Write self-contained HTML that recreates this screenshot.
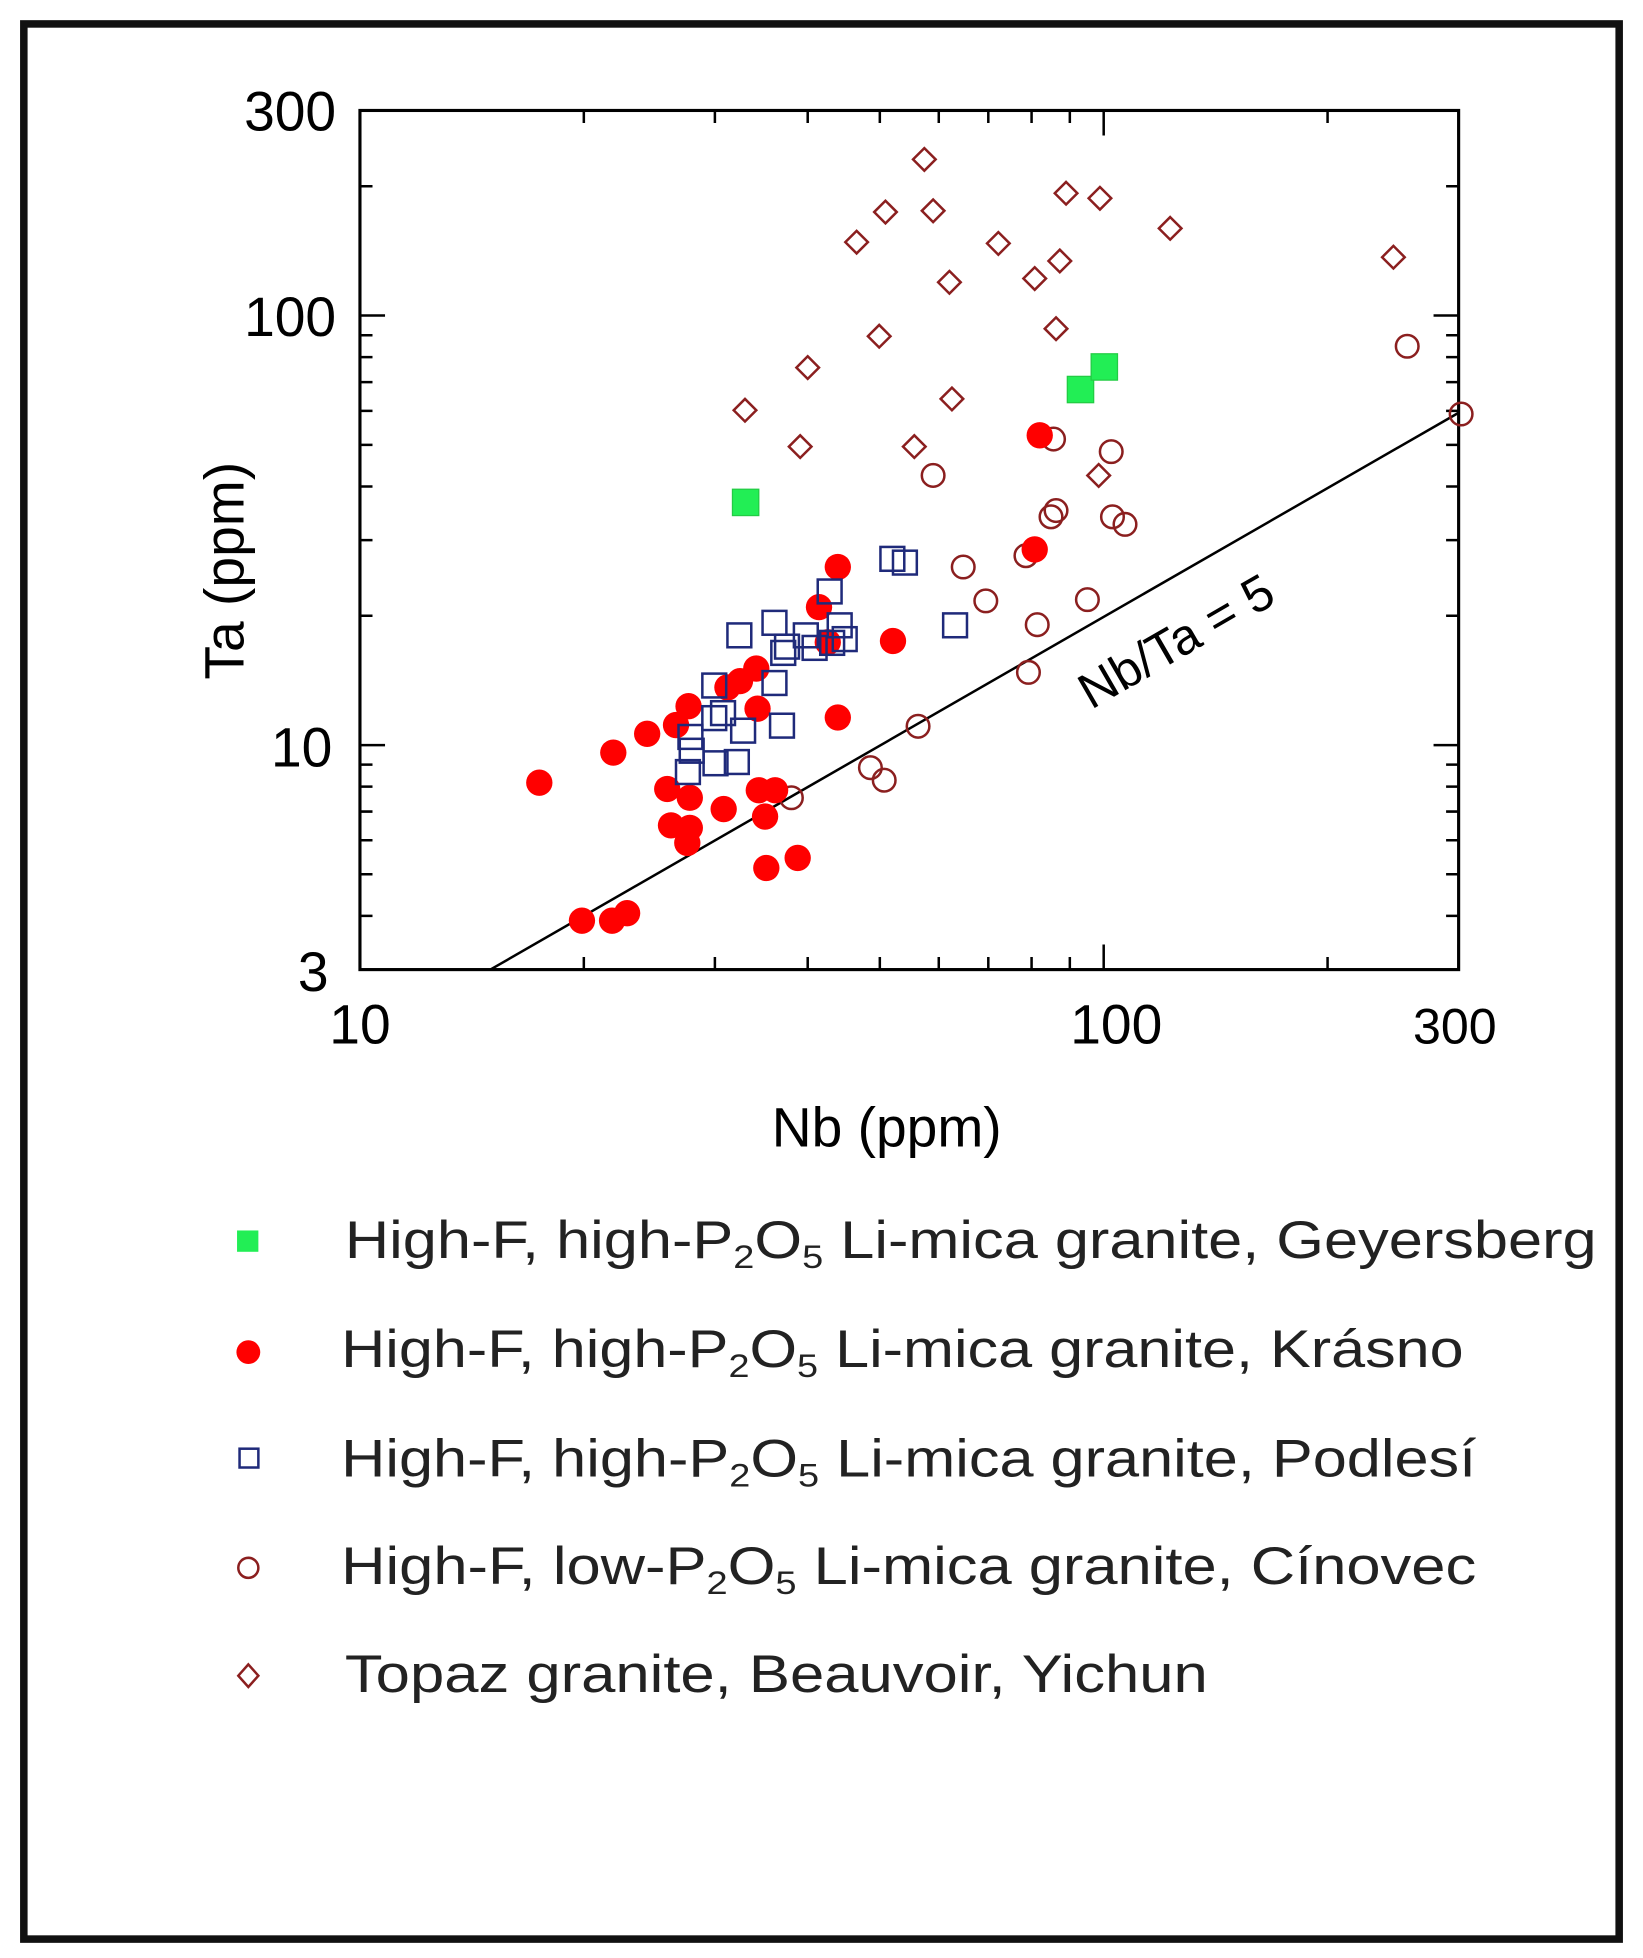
<!DOCTYPE html>
<html><head><meta charset="utf-8"><style>html,body{margin:0;padding:0;background:#fff}svg{display:block}</style></head>
<body>
<svg width="1643" height="1958" viewBox="0 0 1310 1561" xmlns="http://www.w3.org/2000/svg" font-family="Liberation Sans, Arial, sans-serif">
<rect x="0" y="0" width="1310" height="1561" fill="#fff"/>
<rect x="19" y="19" width="1272" height="1527" fill="none" stroke="#111" stroke-width="6"/>
<g stroke="#000" stroke-width="2">
<path d="M287 773v-20M287 88v20
M465.5 773v-10M465.5 88v10
M570 773v-10M570 88v10
M644 773v-10M644 88v10
M701.5 773v-10M701.5 88v10
M748.5 773v-10M748.5 88v10
M788 773v-10M788 88v10
M822.5 773v-10M822.5 88v10
M853 773v-10M853 88v10
M880 773v-20M880 88v20
M1058.5 773v-10M1058.5 88v10
M1163 773v-20M1163 88v20"/>
<path d="M287 730.2h10M1163 730.2h-10
M287 697h10M1163 697h-10
M287 669.9h10M1163 669.9h-10
M287 647h10M1163 647h-10
M287 627.1h10M1163 627.1h-10
M287 609.6h10M1163 609.6h-10
M287 594h20M1163 594h-20
M287 490.9h10M1163 490.9h-10
M287 430.6h10M1163 430.6h-10
M287 387.8h10M1163 387.8h-10
M287 354.6h10M1163 354.6h-10
M287 327.5h10M1163 327.5h-10
M287 304.6h10M1163 304.6h-10
M287 284.7h10M1163 284.7h-10
M287 267.2h10M1163 267.2h-10
M287 251.5h20M1163 251.5h-20
M287 148.4h10M1163 148.4h-10"/>
</g>
<rect x="287" y="88" width="876" height="685" fill="none" stroke="#000" stroke-width="2.5"/>
<line x1="391" y1="773" x2="1163" y2="329" stroke="#000" stroke-width="2"/>
<text x="0" y="0" font-size="40" transform="translate(870,566) rotate(-30)">Nb/Ta = 5</text>
<g font-size="44" fill="#000">
<text x="268" y="104" text-anchor="end">300</text>
<text x="268" y="268" text-anchor="end">100</text>
<text x="265" y="611" text-anchor="end">10</text>
<text x="262" y="790" text-anchor="end">3</text>
<text x="287" y="832" text-anchor="middle">10</text>
<text x="890" y="832" text-anchor="middle">100</text>
<text x="1160" y="832" font-size="40" text-anchor="middle">300</text>
<text x="707" y="914" text-anchor="middle">Nb (ppm)</text>
<text x="0" y="0" text-anchor="middle" transform="translate(194,455) rotate(-90)">Ta (ppm)</text>
</g>
<g fill="none" stroke="#8b1f1f" stroke-width="2">
<path d="M0 -9L9 0L0 9L-9 0Z" transform="translate(737,127)"/>
<path d="M0 -9L9 0L0 9L-9 0Z" transform="translate(706,169)"/>
<path d="M0 -9L9 0L0 9L-9 0Z" transform="translate(744,168)"/>
<path d="M0 -9L9 0L0 9L-9 0Z" transform="translate(683,193)"/>
<path d="M0 -9L9 0L0 9L-9 0Z" transform="translate(796,194)"/>
<path d="M0 -9L9 0L0 9L-9 0Z" transform="translate(850,154)"/>
<path d="M0 -9L9 0L0 9L-9 0Z" transform="translate(877,158)"/>
<path d="M0 -9L9 0L0 9L-9 0Z" transform="translate(933,182)"/>
<path d="M0 -9L9 0L0 9L-9 0Z" transform="translate(1111,205)"/>
<path d="M0 -9L9 0L0 9L-9 0Z" transform="translate(757,225)"/>
<path d="M0 -9L9 0L0 9L-9 0Z" transform="translate(825,222)"/>
<path d="M0 -9L9 0L0 9L-9 0Z" transform="translate(845,208)"/>
<path d="M0 -9L9 0L0 9L-9 0Z" transform="translate(701,268)"/>
<path d="M0 -9L9 0L0 9L-9 0Z" transform="translate(842,262)"/>
<path d="M0 -9L9 0L0 9L-9 0Z" transform="translate(644,293)"/>
<path d="M0 -9L9 0L0 9L-9 0Z" transform="translate(594,327)"/>
<path d="M0 -9L9 0L0 9L-9 0Z" transform="translate(759,318)"/>
<path d="M0 -9L9 0L0 9L-9 0Z" transform="translate(638,356)"/>
<path d="M0 -9L9 0L0 9L-9 0Z" transform="translate(729,356)"/>
<path d="M0 -9L9 0L0 9L-9 0Z" transform="translate(876,379)"/>
</g>
<g fill="none" stroke="#8b1f1f" stroke-width="2">
<circle cx="1122" cy="276" r="9"/><circle cx="840" cy="350" r="9"/><circle cx="886" cy="360" r="9"/>
<circle cx="744" cy="379" r="9"/><circle cx="838" cy="412" r="9"/><circle cx="842" cy="407" r="9"/>
<circle cx="887" cy="412" r="9"/><circle cx="897" cy="418" r="9"/><circle cx="768" cy="452" r="9"/>
<circle cx="818" cy="443" r="9"/><circle cx="786" cy="479" r="9"/><circle cx="867" cy="478" r="9"/>
<circle cx="827" cy="498" r="9"/><circle cx="820" cy="536" r="9"/><circle cx="732" cy="579" r="9"/>
<circle cx="694" cy="612" r="9"/><circle cx="705" cy="622" r="9"/><circle cx="631" cy="636" r="9"/>
<circle cx="1165" cy="330" r="9"/>
</g>
<g fill="#ff0000">
<circle cx="829" cy="347" r="10.5"/><circle cx="825" cy="438" r="10.5"/><circle cx="668" cy="452" r="10.5"/>
<circle cx="653" cy="484" r="10.5"/><circle cx="660" cy="512" r="10.5"/><circle cx="712" cy="511" r="10.5"/>
<circle cx="668" cy="572" r="10.5"/><circle cx="603" cy="533" r="10.5"/><circle cx="590" cy="543" r="10.5"/>
<circle cx="580" cy="548" r="10.5"/><circle cx="604" cy="565" r="10.5"/><circle cx="549" cy="563" r="10.5"/>
<circle cx="539" cy="578" r="10.5"/><circle cx="516" cy="585" r="10.5"/><circle cx="489" cy="600" r="10.5"/>
<circle cx="430" cy="624" r="10.5"/><circle cx="532" cy="629" r="10.5"/><circle cx="550" cy="636" r="10.5"/>
<circle cx="605" cy="630" r="10.5"/><circle cx="618" cy="630" r="10.5"/><circle cx="610" cy="651" r="10.5"/>
<circle cx="577" cy="645" r="10.5"/><circle cx="535" cy="658" r="10.5"/><circle cx="550" cy="660" r="10.5"/>
<circle cx="548" cy="672" r="10.5"/><circle cx="611" cy="692" r="10.5"/><circle cx="636" cy="684" r="10.5"/>
<circle cx="464" cy="734" r="10.5"/><circle cx="488" cy="734" r="10.5"/><circle cx="500" cy="728" r="10.5"/>
</g>
<g fill="none" stroke="#1f2a7a" stroke-width="2">
<rect x="702" y="436" width="19" height="19"/><rect x="712" y="439" width="19" height="19"/>
<rect x="652" y="462" width="19" height="19"/><rect x="660" y="489" width="19" height="19"/>
<rect x="580" y="497" width="19" height="19"/><rect x="608" y="487" width="19" height="19"/>
<rect x="633" y="497" width="19" height="19"/><rect x="618" y="506" width="19" height="19"/>
<rect x="615" y="511" width="19" height="19"/><rect x="640" y="507" width="19" height="19"/>
<rect x="654" y="503" width="19" height="19"/><rect x="664" y="500" width="19" height="19"/>
<rect x="752" y="489" width="19" height="19"/><rect x="560" y="537" width="19" height="19"/>
<rect x="608" y="535" width="19" height="19"/><rect x="567" y="559" width="19" height="19"/>
<rect x="560" y="563" width="19" height="19"/><rect x="583" y="573" width="19" height="19"/>
<rect x="614" y="569" width="19" height="19"/><rect x="541" y="578" width="19" height="19"/>
<rect x="542" y="589" width="19" height="19"/><rect x="561" y="599" width="19" height="19"/>
<rect x="578" y="598" width="19" height="19"/><rect x="539" y="606" width="19" height="19"/>
</g>
<g fill="#22ee55" stroke="#22cc44" stroke-width="1">
<rect x="584" y="390" width="21" height="21"/><rect x="851" y="300" width="21" height="21"/><rect x="870" y="282" width="21" height="21"/>
</g>
<rect x="189" y="981" width="17" height="17" fill="#22ee55"/>
<circle cx="198" cy="1078" r="9.5" fill="#ff0000"/>
<rect x="191" y="1155" width="15" height="15" fill="none" stroke="#1f2a7a" stroke-width="2"/>
<circle cx="198" cy="1250" r="8" fill="none" stroke="#8b1f1f" stroke-width="2"/>
<path d="M198 1327L206 1336L198 1345L190 1336Z" fill="none" stroke="#8b1f1f" stroke-width="2"/>
<g font-size="42" fill="#222">
<text x="275" y="1003" textLength="998" lengthAdjust="spacingAndGlyphs">High-F, high-P<tspan font-size="26" dy="8">2</tspan><tspan dy="-8">O</tspan><tspan font-size="26" dy="8">5</tspan><tspan dy="-8"> Li-mica granite, Geyersberg</tspan></text>
<text x="272" y="1090" textLength="895" lengthAdjust="spacingAndGlyphs">High-F, high-P<tspan font-size="26" dy="8">2</tspan><tspan dy="-8">O</tspan><tspan font-size="26" dy="8">5</tspan><tspan dy="-8"> Li-mica granite, Krásno</tspan></text>
<text x="272" y="1177" textLength="905" lengthAdjust="spacingAndGlyphs">High-F, high-P<tspan font-size="26" dy="8">2</tspan><tspan dy="-8">O</tspan><tspan font-size="26" dy="8">5</tspan><tspan dy="-8"> Li-mica granite, Podlesí</tspan></text>
<text x="272" y="1263" textLength="905" lengthAdjust="spacingAndGlyphs">High-F, low-P<tspan font-size="26" dy="8">2</tspan><tspan dy="-8">O</tspan><tspan font-size="26" dy="8">5</tspan><tspan dy="-8"> Li-mica granite, Cínovec</tspan></text>
<text x="275" y="1349" textLength="688" lengthAdjust="spacingAndGlyphs">Topaz granite, Beauvoir, Yichun</text>
</g>
</svg>
</body></html>
